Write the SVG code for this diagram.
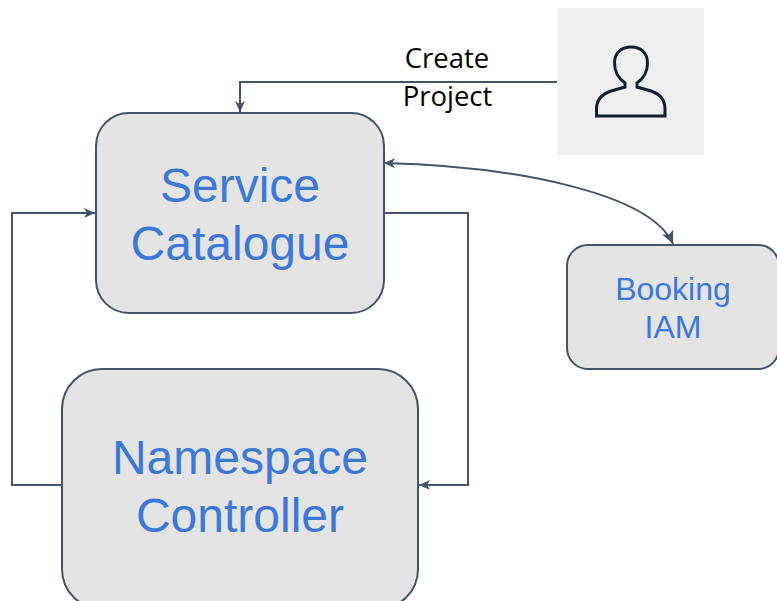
<svg xmlns="http://www.w3.org/2000/svg" width="777" height="601" viewBox="0 0 777 601">
<style>
.box{fill:#e4e4e4;stroke:#44546a;stroke-width:2}
.lbl{font-family:"Liberation Sans",Arial,sans-serif;fill:#3c78d8;text-anchor:middle}
.big{font-size:48px}
.small{font-size:32px}
.cap{font-family:"Open Sans","DejaVu Sans",sans-serif;font-size:27.5px;fill:#000;text-anchor:middle}
.c{fill:none;stroke:#44546a;stroke-width:2}
</style>
<defs>
<marker id="a" viewBox="0 0 12 12" refX="11" refY="6" markerWidth="12" markerHeight="12" markerUnits="userSpaceOnUse" orient="auto-start-reverse">
<path d="M0 1 L11 6 L0 11 L3 6 Z" fill="#44546a"/>
</marker>
<marker id="b" viewBox="0 0 14 14" refX="13" refY="7" markerWidth="14" markerHeight="14" markerUnits="userSpaceOnUse" orient="auto">
<path d="M0 1 L13 7 L0 13 L3 7 Z" fill="#44546a"/>
</marker>
</defs>
<rect width="777" height="601" fill="#fff"/>
<g id="connectors">
<path class="c" d="M557 82 H240 V112" marker-end="url(#a)"/>
<path class="c" d="M385 213 H468 V485 H419" marker-end="url(#a)"/>
<path class="c" d="M62 485 H12 V213 H95" marker-end="url(#a)"/>
<path class="c" d="M384 163 C510 166 650 192 673 244" marker-start="url(#a)" marker-end="url(#b)"/>
</g>
<g id="user">
<rect x="557" y="8" width="147" height="147" fill="#efefef"/>
<path d="M596.500 116 V109 C596.500 99 602 94 611 91 L625 87 V83 C618 78 614.500 71 614.500 63 C614.500 53 621 47 631 47 C641 47 647.500 53 647.500 63 C647.500 71 644 78 637 83 V87 L651 91 C660 94 665 99 665 109 V116 Z" fill="none" stroke="#0f1f33" stroke-width="3"/>
</g>
<g id="create-project">
<text class="cap" x="447" y="68">Create</text>
<text class="cap" x="447.500" y="106">Project</text>
</g>
<g id="service-catalogue">
<rect class="box" x="96" y="113" width="288" height="200" rx="33"/>
<text class="lbl big" x="240" y="202">Service</text>
<text class="lbl big" x="240" y="260">Catalogue</text>
</g>
<g id="booking-iam">
<rect class="box" x="567" y="245" width="212" height="124" rx="21"/>
<text class="lbl small" x="673" y="300">Booking</text>
<text class="lbl small" x="673" y="338">IAM</text>
</g>
<g id="namespace-controller">
<rect class="box" x="62" y="369" width="356" height="240" rx="40"/>
<text class="lbl big" x="240" y="474">Namespace</text>
<text class="lbl big" x="240" y="532">Controller</text>
</g>
</svg>
